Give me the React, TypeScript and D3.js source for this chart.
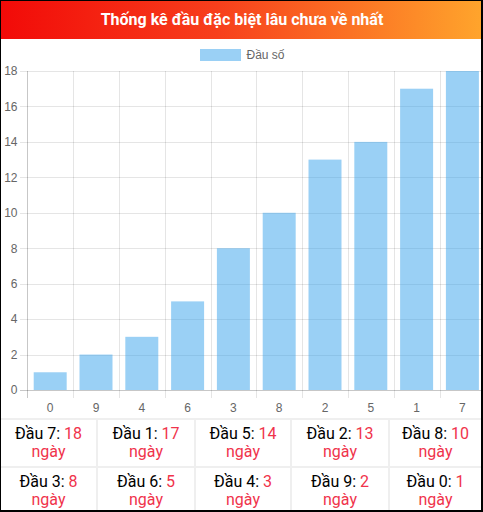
import { useMemo } from "react";
import * as d3 from "d3";

const categories = ["0", "9", "4", "6", "3", "8", "2", "5", "1", "7"];
const values = [1, 2, 3, 5, 8, 10, 13, 14, 17, 18];
const yTicks = [0, 2, 4, 6, 8, 10, 12, 14, 16, 18];
const title = "Thống kê đầu đặc biệt lâu chưa về nhất";
const legendLabel = "Đầu số";

const W = 483;
const H = 512;
const FONT = "Roboto, 'Noto Sans', sans-serif";
const AXIS_FONT = "'Liberation Sans', Arial, Helvetica, sans-serif";

export default function App() {
  const x = useMemo(
    () => d3.scaleBand<string>().domain(categories).range([27.3, 485.3]).padding(0),
    []
  );
  const y = useMemo(() => d3.scaleLinear().domain([0, 18]).range([390, 71]), []);

  // table: heads sorted by days, descending
  const rows = useMemo(() => {
    const items = categories
      .map((c, i) => ({ head: c, days: values[i] }))
      .sort((a, b) => b.days - a.days);
    return [items.slice(0, 5), items.slice(5, 10)];
  }, []);

  const barW = x.bandwidth() * 0.72;
  const colX = [0, 97, 195, 291, 389, 482];
  const rowY = [420, 468, 511];

  return (
    <>
      <style>{`body{margin:0}`}</style>
      <svg width={W} height={H} style={{ display: "block", fontFamily: FONT }}>
        <defs>
          <linearGradient id="hdr" x1="0" y1="0" x2="1" y2="0">
            <stop offset="0%" stopColor="#f20a08" />
            <stop offset="45%" stopColor="#f73f1c" />
            <stop offset="100%" stopColor="#ffa52c" />
          </linearGradient>
          <clipPath id="clip">
            <rect x={0} y={0} width={481} height={510} />
          </clipPath>
        </defs>
        <rect x={0} y={0} width={W} height={H} fill="#fff" />
        <g clipPath="url(#clip)">
          {/* header */}
          <rect x={0} y={0} width={W} height={39} fill="url(#hdr)" />
          <text
            x={242}
            y={25}
            textAnchor="middle"
            fill="#fff"
            fontSize={16}
            fontWeight="bold"
          >
            {title}
          </text>

          {/* legend */}
          <rect x={200} y={49} width={41} height={12} fill="rgba(54,162,235,0.5)" />
          <text x={246.5} y={58.5} fontSize={12} fill="#666" fontFamily={AXIS_FONT}>
            {legendLabel}
          </text>

          {/* horizontal grid */}
          {yTicks.map((t) => (
            <g key={"y" + t}>
              <line
                x1={20}
                x2={486}
                y1={Math.round(y(t)) + 0.5}
                y2={Math.round(y(t)) + 0.5}
                stroke={t === 0 ? "rgba(0,0,0,0.22)" : "rgba(0,0,0,0.1)"}
              />
              <text
                x={17.5}
                y={y(t) + 4.3}
                textAnchor="end"
                fontSize={12}
                fill="#666"
                fontFamily={AXIS_FONT}
              >
                {t}
              </text>
            </g>
          ))}

          {/* vertical grid */}
          {categories.map((c, i) => {
            const gx = Math.round(x(c)!) + 0.5;
            return (
              <line
                key={"v" + c}
                x1={gx}
                x2={gx}
                y1={71}
                y2={398}
                stroke={i === 0 ? "rgba(0,0,0,0.22)" : "rgba(0,0,0,0.1)"}
              />
            );
          })}

          {/* bars */}
          {categories.map((c, i) => {
            const cx = x(c)! + x.bandwidth() / 2;
            return (
              <rect
                key={"b" + c}
                x={cx - barW / 2}
                y={y(values[i])}
                width={barW}
                height={y(0) - y(values[i])}
                fill="rgba(54,162,235,0.5)"
              />
            );
          })}

          {/* x labels */}
          {categories.map((c) => (
            <text
              key={"xl" + c}
              x={x(c)! + x.bandwidth() / 2}
              y={412}
              textAnchor="middle"
              fontSize={12}
              fill="#666"
              fontFamily={AXIS_FONT}
            >
              {c}
            </text>
          ))}

          {/* table grid */}
          <rect x={0} y={418} width={W} height={2} fill="#efefef" />
          <rect x={0} y={466} width={W} height={2} fill="#efefef" />
          {colX.slice(1, 5).map((cx) => (
            <rect key={"cl" + cx} x={cx - 1} y={418} width={2} height={94} fill="#efefef" />
          ))}

          {/* table cells */}
          {rows.map((row, r) =>
            row.map((d, ci) => {
              const cx = (colX[ci] + colX[ci + 1]) / 2;
              const top = rowY[r];
              return (
                <g key={"c" + d.head} fontSize={16}>
                  <text x={cx} y={top + 19} textAnchor="middle" fill="#000">
                    {`Đầu ${d.head}: `}
                    <tspan fill="#f0334b">{d.days}</tspan>
                  </text>
                  <text x={cx} y={top + 37} textAnchor="middle" fill="#f0334b">
                    ngày
                  </text>
                </g>
              );
            })
          )}
        </g>
        {/* outer frame */}
        <rect x={0} y={0} width={1} height={H} fill="#000" />
        <rect x={0} y={0} width={W} height={1} fill="#000" />
        <rect x={481} y={0} width={2} height={H} fill="#000" />
        <rect x={0} y={510} width={W} height={2} fill="#000" />
      </svg>
    </>
  );
}
